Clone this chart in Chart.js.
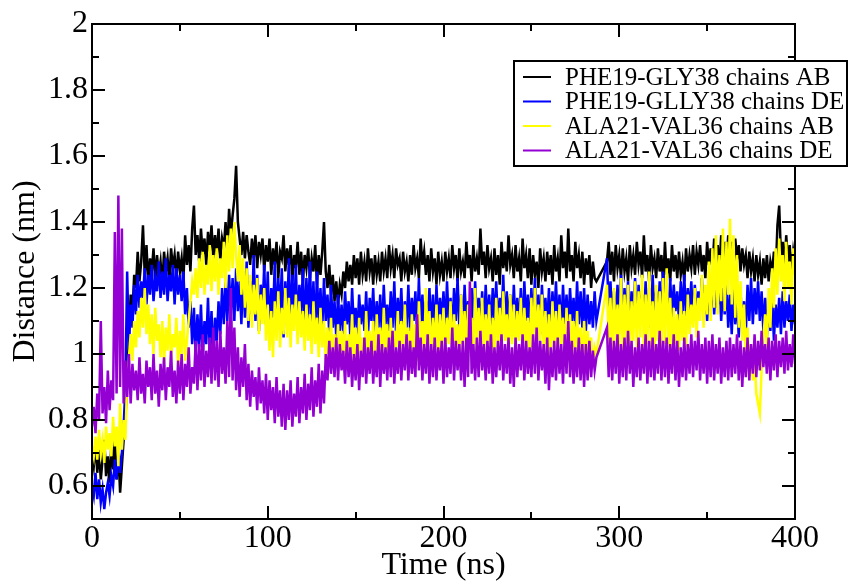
<!DOCTYPE html>
<html>
<head>
<meta charset="utf-8">
<script src="https://cdn.jsdelivr.net/npm/chart.js@4.4.1/dist/chart.umd.min.js"></script>
<style>
  html, body { margin: 0; padding: 0; background: #fff; }
  #wrap { width: 850px; height: 581px; position: relative; }
</style>
</head>
<body>
<div id="wrap"><canvas id="c" width="850" height="581"></canvas></div>
<script>
// Sample times (ns): one frame per ns, none recorded between 287 and 293 ns
const times = [];
for (let t = 0; t <= 287; t++) times.push(t);
for (let t = 293; t <= 400; t++) times.push(t);

// PHE19-GLY38, chains A/B (nm)
const pheGlyAB = [
  0.70,0.66,0.73,0.64,0.71,0.62,0.68,0.74,0.63,0.69,
  0.61,0.72,0.65,0.75,0.62,0.70,0.58,0.66,0.74,0.80,
  0.92,1.05,1.18,1.12,1.24,1.20,1.31,1.22,1.28,1.39,
  1.24,1.33,1.21,1.29,1.25,1.32,1.22,1.30,1.24,1.28,
  1.21,1.31,1.25,1.29,1.22,1.32,1.26,1.30,1.23,1.31,
  1.25,1.29,1.22,1.36,1.27,1.33,1.25,1.38,1.45,1.30,
  1.36,1.28,1.38,1.30,1.35,1.27,1.37,1.31,1.39,1.29,
  1.36,1.30,1.38,1.28,1.35,1.32,1.40,1.31,1.44,1.36,
  1.42,1.47,1.57,1.40,1.35,1.30,1.37,1.29,1.36,1.31,
  1.27,1.35,1.29,1.36,1.26,1.34,1.30,1.35,1.25,1.33,
  1.28,1.35,1.24,1.32,1.27,1.34,1.23,1.31,1.29,1.36,
  1.25,1.32,1.27,1.33,1.22,1.30,1.26,1.34,1.24,1.31,
  1.22,1.30,1.26,1.32,1.23,1.29,1.25,1.33,1.21,1.30,
  1.24,1.31,1.40,1.25,1.20,1.27,1.18,1.24,1.16,1.22,
  1.15,1.21,1.18,1.25,1.20,1.28,1.22,1.27,1.21,1.30,
  1.23,1.29,1.21,1.31,1.24,1.28,1.22,1.32,1.25,1.29,
  1.21,1.30,1.24,1.28,1.22,1.31,1.25,1.29,1.23,1.33,
  1.26,1.30,1.23,1.32,1.27,1.29,1.22,1.31,1.25,1.28,
  1.22,1.30,1.24,1.33,1.26,1.29,1.23,1.35,1.27,1.31,
  1.24,1.30,1.22,1.32,1.25,1.29,1.21,1.31,1.24,1.28,
  1.22,1.31,1.25,1.29,1.23,1.33,1.26,1.30,1.22,1.32,
  1.25,1.28,1.23,1.34,1.26,1.30,1.22,1.33,1.25,1.29,
  1.24,1.38,1.27,1.31,1.23,1.33,1.26,1.29,1.22,1.32,
  1.24,1.30,1.21,1.34,1.26,1.31,1.25,1.36,1.27,1.30,
  1.23,1.33,1.25,1.29,1.22,1.35,1.26,1.30,1.23,1.32,
  1.21,1.30,1.24,1.28,1.20,1.32,1.25,1.29,1.22,1.31,
  1.24,1.30,1.21,1.33,1.25,1.29,1.22,1.36,1.26,1.31,
  1.23,1.38,1.25,1.30,1.22,1.34,1.26,1.30,1.23,1.31,
  1.21,1.29,1.24,1.30,1.20,1.28,1.23,1.22,
  1.28,1.34,1.24,1.31,1.22,1.33,1.26,1.30,1.23,1.32,
  1.25,1.29,1.22,1.33,1.26,1.30,1.24,1.34,1.27,1.31,
  1.23,1.36,1.25,1.30,1.22,1.33,1.26,1.29,1.23,1.32,
  1.25,1.30,1.21,1.34,1.24,1.29,1.22,1.33,1.25,1.30,
  1.23,1.31,1.24,1.28,1.22,1.32,1.25,1.30,1.26,1.33,
  1.24,1.31,1.27,1.33,1.25,1.30,1.23,1.34,1.27,1.32,
  1.26,1.35,1.28,1.33,1.26,1.36,1.29,1.34,1.27,1.36,
  1.28,1.34,1.26,1.35,1.29,1.33,1.25,1.32,1.27,1.30,
  1.23,1.31,1.25,1.29,1.22,1.30,1.24,1.28,1.21,1.29,
  1.23,1.30,1.22,1.28,1.25,1.31,1.24,1.39,1.45,1.30,
  1.34,1.26,1.36,1.28,1.33,1.24,1.31,1.27
];

// PHE19-GLLY38, chains D/E (nm)
const pheGlyDE = [
  0.60,0.57,0.64,0.56,0.62,0.55,0.59,0.53,0.58,0.61,
  0.57,0.63,0.60,0.68,0.62,0.72,0.64,0.70,0.78,0.90,
  1.25,1.02,1.15,1.08,1.21,1.12,1.24,1.14,1.22,1.17,
  1.26,1.15,1.24,1.18,1.27,1.16,1.23,1.19,1.28,1.17,
  1.25,1.18,1.29,1.16,1.24,1.19,1.27,1.15,1.26,1.18,
  1.24,1.16,1.25,1.12,1.20,1.08,1.16,1.03,1.14,1.00,
  1.12,1.02,1.15,0.99,1.10,1.03,1.17,1.01,1.13,0.98,
  1.11,1.04,1.16,1.06,1.20,1.09,1.22,1.10,1.24,1.12,
  1.23,1.10,1.26,1.13,1.22,1.09,1.25,1.11,1.28,1.08,
  1.22,1.12,1.30,1.10,1.24,1.07,1.21,1.13,1.27,1.09,
  1.25,1.06,1.20,1.11,1.28,1.08,1.23,1.12,1.26,1.05,
  1.22,1.10,1.29,1.08,1.24,1.11,1.27,1.07,1.21,1.12,
  1.26,1.06,1.23,1.10,1.28,1.08,1.22,1.05,1.25,1.09,
  1.20,1.07,1.23,1.10,1.18,1.06,1.21,1.08,1.16,1.05,
  1.18,1.07,1.15,1.06,1.19,1.09,1.16,1.05,1.20,1.08,
  1.14,1.06,1.18,1.09,1.15,1.07,1.19,1.05,1.17,1.10,
  1.20,1.06,1.16,1.08,1.18,1.05,1.21,1.09,1.15,1.07,
  1.19,1.08,1.22,1.06,1.17,1.09,1.20,1.05,1.16,1.08,
  1.21,1.07,1.17,1.10,1.19,1.06,1.23,1.08,1.18,1.05,
  1.16,1.09,1.20,1.07,1.18,1.05,1.21,1.08,1.17,1.10,
  1.19,1.07,1.22,1.09,1.17,1.06,1.20,1.10,1.23,1.08,
  1.18,1.06,1.21,1.09,1.16,1.08,1.20,1.07,1.22,1.10,
  1.17,1.08,1.19,1.06,1.21,1.09,1.18,1.07,1.20,1.10,
  1.22,1.08,1.17,1.10,1.24,1.07,1.19,1.09,1.18,1.06,
  1.21,1.09,1.17,1.08,1.20,1.06,1.22,1.10,1.18,1.07,
  1.20,1.09,1.23,1.08,1.18,1.06,1.21,1.10,1.17,1.08,
  1.20,1.07,1.19,1.10,1.22,1.08,1.18,1.06,1.21,1.09,
  1.18,1.08,1.20,1.10,1.17,1.07,1.22,1.09,1.19,1.08,
  1.20,1.07,1.18,1.09,1.16,1.08,1.19,1.10,
  1.29,1.13,1.22,1.10,1.19,1.08,1.21,1.11,1.24,1.09,
  1.20,1.10,1.22,1.08,1.19,1.11,1.23,1.09,1.21,1.12,
  1.18,1.09,1.22,1.10,1.20,1.08,1.24,1.11,1.19,1.10,
  1.22,1.09,1.25,1.12,1.20,1.10,1.23,1.11,1.21,1.13,
  1.19,1.10,1.22,1.12,1.24,1.11,1.20,1.13,1.22,1.10,
  1.21,1.12,1.19,1.14,1.23,1.12,1.20,1.10,1.22,1.13,
  1.24,1.12,1.21,1.14,1.23,1.10,1.20,1.12,1.22,1.08,
  1.18,1.06,1.20,1.09,1.17,1.05,1.19,1.08,1.16,1.06,
  1.21,1.10,1.23,1.09,1.20,1.12,1.22,1.10,1.19,1.07,
  1.17,1.05,1.16,1.07,1.18,1.04,1.15,1.08,1.17,1.06,
  1.19,1.08,1.16,1.10,1.18,1.07,1.15,1.09
];

// ALA21-VAL36, chains A/B (nm)
const alaValAB = [
  0.72,0.69,0.75,0.68,0.77,0.70,0.74,0.67,0.78,0.71,
  0.76,0.69,0.81,0.72,0.78,0.66,0.85,0.71,0.80,0.74,
  0.92,0.99,1.06,0.98,1.10,1.02,1.13,1.05,1.17,1.08,
  1.20,1.06,1.15,1.03,1.12,1.00,1.14,1.04,1.09,0.99,
  1.10,0.97,1.08,1.01,1.12,0.98,1.06,1.02,1.11,0.96,
  1.07,1.00,1.12,0.98,1.04,1.10,1.16,1.22,1.18,1.26,
  1.17,1.29,1.20,1.31,1.18,1.27,1.21,1.33,1.19,1.30,
  1.22,1.32,1.18,1.29,1.23,1.34,1.20,1.36,1.25,1.38,
  1.26,1.40,1.30,1.22,1.33,1.18,1.29,1.14,1.26,1.10,
  1.24,1.08,1.21,1.12,1.23,1.06,1.18,1.09,1.20,1.04,
  1.15,1.01,1.13,0.99,1.16,1.04,1.19,1.02,1.14,1.06,
  1.20,1.05,1.17,1.02,1.15,1.07,1.18,1.03,1.16,1.05,
  1.13,1.01,1.15,1.04,1.12,1.00,1.16,1.03,1.11,0.99,
  1.14,1.02,1.10,0.98,1.08,1.00,1.11,0.97,1.06,0.99,
  1.09,0.96,1.07,0.98,1.10,0.95,1.06,0.99,1.12,0.97,
  1.08,0.96,1.11,0.99,1.05,0.97,1.13,1.00,1.07,0.98,
  1.10,0.96,1.12,1.00,1.08,0.98,1.14,1.01,1.09,0.97,
  1.11,0.99,1.07,1.02,1.13,0.98,1.10,1.01,1.15,0.99,
  1.08,0.97,1.12,1.00,1.09,0.98,1.16,1.02,1.10,0.99,
  1.20,1.03,1.13,0.99,1.11,1.01,1.15,0.98,1.12,1.02,
  1.14,1.00,1.11,1.03,1.16,0.99,1.12,1.02,1.09,0.98,
  1.18,1.03,1.13,1.00,1.15,1.02,1.11,0.99,1.20,1.03,
  1.14,1.01,1.17,1.00,1.12,1.03,1.15,0.98,1.11,1.01,
  1.17,1.02,1.14,1.00,1.19,1.04,1.12,0.99,1.18,1.03,
  1.15,1.01,1.13,1.04,1.17,1.00,1.14,1.02,1.11,0.99,
  1.17,1.03,1.20,1.02,1.15,1.04,1.18,1.01,1.13,1.00,
  1.12,0.99,1.16,1.02,1.13,1.00,1.15,1.03,1.11,0.99,
  1.14,1.01,1.12,0.98,1.10,1.00,1.13,0.99,1.08,0.97,
  1.10,0.98,1.07,1.00,1.05,0.96,1.02,1.00,
  1.21,1.03,1.17,1.00,1.20,1.04,1.15,1.02,1.23,1.01,
  1.18,1.03,1.21,1.00,1.16,1.04,1.22,1.02,1.19,1.05,
  1.24,1.01,1.18,1.03,1.25,1.02,1.16,1.00,1.21,1.04,
  1.19,1.01,1.23,1.03,1.26,1.02,1.17,1.00,1.14,1.03,
  1.12,1.01,1.16,1.04,1.13,1.02,1.18,1.06,1.15,1.08,
  1.20,1.05,1.17,1.10,1.24,1.08,1.21,1.12,1.28,1.10,
  1.32,1.14,1.36,1.12,1.30,1.16,1.38,1.13,1.34,1.18,
  1.41,1.15,1.36,1.11,1.30,1.08,1.22,1.04,1.15,1.00,
  1.08,0.96,1.03,0.92,0.98,0.88,0.85,0.82,0.95,1.05,
  1.12,1.02,1.20,1.08,1.26,1.14,1.32,1.18,1.35,1.22,
  1.30,1.16,1.34,1.20,1.28,1.15,1.32,1.24
];

// ALA21-VAL36, chains D/E (nm)
const alaValDE = [
  0.78,0.84,0.76,0.88,0.80,1.10,0.82,0.90,0.79,0.95,
  0.83,0.92,0.86,1.37,0.88,1.48,0.90,1.38,0.85,0.98,
  0.87,1.00,0.85,0.97,0.89,0.95,0.86,0.99,0.88,0.94,
  0.85,0.98,0.90,0.96,0.86,1.00,0.88,0.95,0.84,0.97,
  0.89,0.99,0.86,0.96,0.90,1.01,0.87,0.95,0.85,0.98,
  0.88,1.00,0.86,0.97,0.90,1.02,0.88,0.96,0.91,1.04,
  0.89,1.03,0.92,1.06,0.90,1.01,0.93,1.05,0.91,1.08,
  0.92,1.04,0.90,1.07,0.94,1.02,0.91,1.10,0.93,1.20,
  0.92,1.08,0.89,1.02,0.87,0.99,0.90,1.03,0.86,0.97,
  0.84,0.95,0.87,0.93,0.83,0.96,0.85,0.92,0.82,0.94,
  0.80,0.92,0.83,0.90,0.79,0.93,0.81,0.89,0.78,0.91,
  0.77,0.89,0.80,0.92,0.78,0.88,0.81,0.93,0.79,0.90,
  0.82,0.94,0.80,0.91,0.83,0.96,0.81,0.92,0.84,0.97,
  0.82,0.95,0.85,1.00,0.92,1.04,0.94,1.02,0.93,1.05,
  0.92,1.03,0.95,1.01,0.91,1.04,0.93,1.02,0.90,1.00,
  0.92,1.03,0.89,1.01,0.93,1.05,0.91,1.02,0.94,1.04,
  0.91,1.01,0.93,1.06,0.90,1.03,0.94,1.02,0.92,1.05,
  0.93,1.07,0.91,1.02,0.94,1.04,0.92,1.03,0.95,1.06,
  0.92,1.04,0.94,1.02,0.93,1.12,0.95,1.05,0.92,1.03,
  0.94,1.06,0.91,1.03,0.93,1.05,0.92,1.02,0.95,1.04,
  0.91,1.05,0.93,1.02,0.94,1.08,0.92,1.04,0.95,1.03,
  0.92,1.04,0.90,1.05,0.93,1.22,0.94,1.03,0.92,1.05,
  0.93,1.07,0.95,1.03,0.92,1.04,0.94,1.06,0.91,1.02,
  0.93,1.04,0.95,1.06,0.92,1.03,0.94,1.05,0.91,1.02,
  0.90,1.05,0.93,1.03,0.95,1.06,0.92,1.04,0.94,1.02,
  0.93,1.06,0.94,1.08,0.92,1.04,0.95,1.03,0.91,1.05,
  0.89,1.02,0.93,1.04,0.92,1.05,0.94,1.03,0.91,1.06,
  0.94,1.10,0.93,1.04,0.91,1.02,0.93,1.05,0.92,1.03,
  0.90,1.03,0.92,1.04,0.93,1.01,0.95,0.99,
  1.08,0.93,1.05,0.92,1.04,0.94,1.06,0.91,1.03,0.93,
  1.05,0.92,1.07,0.94,1.04,0.90,1.02,0.93,1.05,0.92,
  1.03,0.94,1.06,0.91,1.04,0.93,1.05,0.92,1.03,0.94,
  1.07,0.92,1.04,0.93,1.05,0.91,1.03,0.94,1.06,0.92,
  1.04,0.90,1.02,0.93,1.05,0.92,1.03,0.94,1.06,0.93,
  1.04,0.95,1.07,0.92,1.03,0.94,1.05,0.91,1.04,0.93,
  1.06,0.92,1.03,0.94,1.05,0.91,1.02,0.93,1.04,0.92,
  1.05,0.93,1.03,0.94,1.06,0.92,1.04,0.90,1.02,0.93,
  1.05,0.92,1.03,0.94,1.06,0.93,1.04,0.95,1.07,0.96,
  1.03,0.94,1.05,0.92,1.04,0.95,1.06,0.93,1.04,0.96,
  1.05,0.94,1.07,0.95,1.03,0.96,1.06,0.97
];

const seriesLabels = [
  'PHE19-GLY38 chains AB',
  'PHE19-GLLY38 chains DE',
  'ALA21-VAL36 chains AB',
  'ALA21-VAL36 chains DE'
];
const seriesColors = ['#000000', '#0000ff', '#ffff00', '#9400d3'];
const seriesValues = [pheGlyAB, pheGlyDE, alaValAB, alaValDE];

const xMajor = [0, 100, 200, 300, 400];
const xMinor = [50, 150, 250, 350];
const yMajor = [0.6, 0.8, 1.0, 1.2, 1.4, 1.6, 1.8, 2.0];
const yMinor = [0.7, 0.9, 1.1, 1.3, 1.5, 1.7, 1.9];

const SERIF = '"Liberation Serif", "Times New Roman", serif';

function pointsFor(values) {
  return values.map((v, i) => ({ x: times[i], y: v }));
}

// Frame with inward ticks on all four sides, axis titles and a boxed legend
const framePlugin = {
  id: 'frame',
  afterDatasetsDraw(chart) {
    const { ctx, chartArea: a, scales } = chart;
    const xs = scales.x, ys = scales.y;
    ctx.save();
    ctx.strokeStyle = '#000';
    ctx.lineWidth = 2;
    ctx.lineCap = 'butt';
    ctx.strokeRect(a.left, a.top, a.right - a.left, a.bottom - a.top);
    ctx.beginPath();
    const tick = (list, len) => {
      list.forEach(v => {
        const px = Math.round(xs.getPixelForValue(v));
        ctx.moveTo(px, a.bottom); ctx.lineTo(px, a.bottom - len);
        ctx.moveTo(px, a.top); ctx.lineTo(px, a.top + len);
      });
    };
    const ytick = (list, len) => {
      list.forEach(v => {
        const py = Math.round(ys.getPixelForValue(v));
        ctx.moveTo(a.left, py); ctx.lineTo(a.left + len, py);
        ctx.moveTo(a.right, py); ctx.lineTo(a.right - len, py);
      });
    };
    tick(xMajor, 13); tick(xMinor, 7);
    ytick(yMajor, 13); ytick(yMinor, 7);
    ctx.stroke();

    // axis titles
    ctx.fillStyle = '#000';
    ctx.font = '32px ' + SERIF;
    ctx.textAlign = 'center';
    ctx.textBaseline = 'alphabetic';
    ctx.fillText('Time (ns)', (a.left + a.right) / 2, 574);
    ctx.save();
    ctx.translate(34, (a.top + a.bottom) / 2);
    ctx.rotate(-Math.PI / 2);
    ctx.fillText('Distance (nm)', 0, 0);
    ctx.restore();
    ctx.restore();
  },
  afterDraw(chart) {
    const { ctx } = chart;
    const box = { x: 514, y: 61, w: 333, h: 105 };
    ctx.save();
    ctx.fillStyle = '#fff';
    ctx.fillRect(box.x, box.y, box.w, box.h);
    ctx.strokeStyle = '#000';
    ctx.lineWidth = 2;
    ctx.strokeRect(box.x, box.y, box.w, box.h);
    ctx.font = '25px ' + SERIF;
    ctx.textAlign = 'left';
    ctx.textBaseline = 'middle';
    chart.data.datasets.forEach((ds, i) => {
      const ly = box.y + 16 + i * 24.5;
      ctx.strokeStyle = ds.borderColor;
      ctx.lineWidth = 2;
      ctx.beginPath();
      ctx.moveTo(box.x + 9, ly);
      ctx.lineTo(box.x + 37, ly);
      ctx.stroke();
      ctx.fillStyle = '#000';
      ctx.fillText(ds.label, box.x + 51, ly + 1);
    });
    ctx.restore();
  }
};

new Chart(document.getElementById('c'), {
  type: 'line',
  data: {
    datasets: seriesValues.map((vals, i) => ({
      label: seriesLabels[i],
      data: pointsFor(vals),
      borderColor: seriesColors[i],
      backgroundColor: seriesColors[i],
      borderWidth: 2.5,
      pointRadius: 0,
      tension: 0,
      fill: false,
      order: 4 - i
    }))
  },
  options: {
    responsive: false,
    animation: false,
    events: [],
    layout: { padding: { left: 0, right: 55, top: 24, bottom: 0 } },
    plugins: { legend: { display: false }, tooltip: { enabled: false } },
    scales: {
      x: {
        type: 'linear',
        min: 0, max: 400,
        afterFit(s) { s.height = 62; },
        afterBuildTicks(s) { s.ticks = xMajor.map(v => ({ value: v })); },
        grid: { display: false, drawTicks: false },
        border: { display: false },
        ticks: {
          padding: 0,
          color: '#000',
          font: { family: SERIF, size: 32 },
          maxRotation: 0,
          callback: v => String(v)
        }
      },
      y: {
        type: 'linear',
        min: 0.5, max: 2,
        afterFit(s) { s.width = 92; },
        afterBuildTicks(s) { s.ticks = yMajor.map(v => ({ value: v })); },
        grid: { display: false, drawTicks: false },
        border: { display: false },
        ticks: {
          padding: 4,
          color: '#000',
          font: { family: SERIF, size: 32 },
          callback: v => String(Number(v.toFixed(1)))
        }
      }
    }
  },
  plugins: [framePlugin]
});
</script>
</body>
</html>
